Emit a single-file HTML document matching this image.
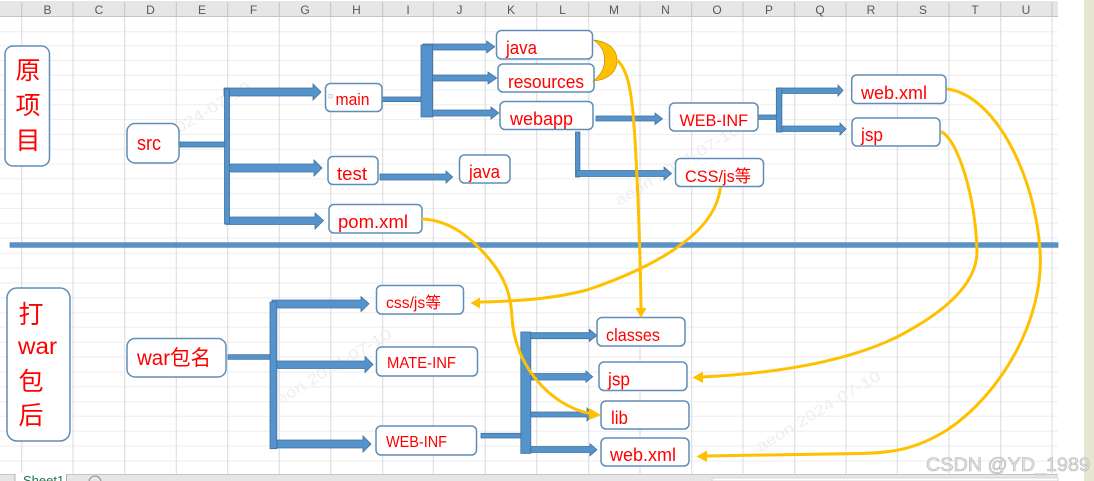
<!DOCTYPE html>
<html><head><meta charset="utf-8">
<style>
html,body{margin:0;padding:0;background:#fff;width:1094px;height:481px;overflow:hidden}
svg{display:block}
text{font-family:"Liberation Sans","Noto Sans CJK SC",sans-serif}
.h{font-size:12px;fill:#595959;text-anchor:middle}
.t{font-size:18.5px;fill:#ff0000}
.c{font-size:25px;fill:#ff0000;font-family:"Liberation Sans","Noto Sans CJK SC",sans-serif}
.w{font-size:15px;fill:#eeeeee}
.b rect{fill:#fff;stroke:#5f8db5;stroke-width:1.5}
.a polygon,.a rect{fill:#5593cd;stroke:#41719c;stroke-width:.8}
.y{fill:none;stroke:#ffc000;stroke-width:3}
.yh{fill:#ffc000}
</style></head><body>
<svg width="1094" height="481" viewBox="0 0 1094 481" xmlns="http://www.w3.org/2000/svg">
<defs><filter id="s" x="0" y="0" width="100%" height="100%"><feGaussianBlur stdDeviation="0.35"/></filter></defs>
<g filter="url(#s)">
<rect x="0" y="0" width="1094" height="481" fill="#fff"/>
<rect x="1084" y="0" width="10" height="481" fill="#e4e6d0"/>
<!-- grid -->
<path stroke="#ededed" stroke-width="1" fill="none" d="M0 31.7H1058M0 45.7H1058M0 60.5H1058M0 75.3H1058M0 90H1058M0 104.8H1058M0 119.6H1058M0 134.4H1058M0 149.2H1058M0 164H1058M0 178.8H1058M0 193.6H1058M0 208.4H1058M0 223.2H1058M0 238H1058M0 253.3H1058M0 268H1058M0 283H1058M0 297.7H1058M0 312.7H1058M0 327.3H1058M0 342.3H1058M0 357H1058M0 372H1058M0 386.7H1058M0 401.7H1058M0 416.3H1058M0 431.3H1058M0 446H1058M0 461H1058"/>
<path stroke="#dedede" stroke-width="1.1" fill="none" d="M21.7 16V474M73 16V474M124.7 16V474M176.3 16V474M227.7 16V474M279.3 16V474M330.7 16V474M382.7 16V474M433.3 16V474M485.3 16V474M536.7 16V474M588.7 16V474M640 16V474M691.7 16V474M743 16V474M794.7 16V474M846 16V474M897.3 16V474M949 16V474M1000.7 16V474M1052 16V474"/>
<!-- header -->
<rect x="0" y="1" width="1058" height="15" fill="#e6e6e6"/>
<path stroke="#c4c4c4" fill="none" d="M0 16.5H1058M21.7 2V16M73 2V16M124.7 2V16M176.3 2V16M227.7 2V16M279.3 2V16M330.7 2V16M382.7 2V16M433.3 2V16M485.3 2V16M536.7 2V16M588.7 2V16M640 2V16M691.7 2V16M743 2V16M794.7 2V16M846 2V16M897.3 2V16M949 2V16M1000.7 2V16M1052 2V16"/>
<g class="h">
<text class="h" x="47.5" y="14">B</text><text class="h" x="99" y="14">C</text><text class="h" x="150.5" y="14">D</text><text class="h" x="202" y="14">E</text><text class="h" x="253.5" y="14">F</text><text class="h" x="305" y="14">G</text><text class="h" x="356.5" y="14">H</text><text class="h" x="408" y="14">I</text><text class="h" x="459.5" y="14">J</text><text class="h" x="511" y="14">K</text><text class="h" x="562.5" y="14">L</text><text class="h" x="614" y="14">M</text><text class="h" x="665.5" y="14">N</text><text class="h" x="717" y="14">O</text><text class="h" x="769" y="14">P</text><text class="h" x="820" y="14">Q</text><text class="h" x="871" y="14">R</text><text class="h" x="923" y="14">S</text><text class="h" x="975" y="14">T</text><text class="h" x="1026" y="14">U</text>
</g>
<!-- sheet tabs -->
<rect x="0" y="474" width="1058" height="7" fill="#e6e6e6"/>
<path d="M0 474.5H1058" stroke="#c4c4c4"/>
<rect x="15" y="473" width="51" height="9" fill="#fff"/>
<path d="M15 474V481M66.5 474V481" stroke="#b0b0b0"/>
<text x="23" y="485" fill="#217346" style="font-size:13px">Sheet1</text>
<circle cx="95" cy="482" r="6" fill="none" stroke="#8a8a8a"/>
<rect x="712" y="478" width="346" height="3" fill="#fff" stroke="#c8c8c8" stroke-width=".7"/>
<!-- watermarks -->
<g class="w">
<text class="w" transform="translate(130,163) rotate(-31)" textLength="142" lengthAdjust="spacingAndGlyphs">aeon  2024-07-10</text>
<text class="w" transform="translate(619,206) rotate(-31)" textLength="142" lengthAdjust="spacingAndGlyphs">aeon  2024-07-10</text>
<text class="w" transform="translate(271,410) rotate(-31)" textLength="142" lengthAdjust="spacingAndGlyphs">aeon  2024-07-10</text>
<text class="w" transform="translate(760,452) rotate(-31)" textLength="142" lengthAdjust="spacingAndGlyphs">aeon  2024-07-10</text>
</g>
<!-- divider -->
<rect x="10" y="242.7" width="1048" height="4.6" fill="#5593cd" stroke="#41719c" stroke-width=".6"/>
<!-- blue connectors -->
<g class="a">
<rect x="180" y="142" width="45" height="5"/>
<polygon points="224,88 313,88 313,84 321,92 313,100 313,96 224,96"/>
<polygon points="229,164 314,164 314,160 322,168 314,176 314,172 229,172"/>
<polygon points="226,217 315,217 315,213 323.5,220.5 315,229 315,224.5 226,224.5"/>
<rect x="224.5" y="89" width="5" height="135"/>
<rect x="382" y="97" width="42" height="4.6"/>
<polygon points="423,44 486.7,44 486.7,41 494.7,46.8 486.7,52.8 486.7,50 423,50"/>
<polygon points="432,75 488,75 488,72 496.7,78 488,84 488,81 432,81"/>
<polygon points="432,110 491,110 491,107 498.7,113 491,119 491,116 432,116"/>
<rect x="421" y="45" width="11.6" height="72"/>
<polygon points="596,116 655,116 655,113 662.5,118.7 655,124.5 655,121 596,121"/>
<rect x="575.5" y="132" width="4.4" height="45"/>
<polygon points="576,170.5 664,170.5 664,167 671.5,173.5 664,180 664,176.5 576,176.5"/>
<polygon points="380,174 446,174 446,171 452.7,177 446,183 446,180 380,180"/>
<rect x="758" y="115" width="19" height="4.4"/>
<polygon points="778,88 838,88 838,85 843,90.5 838,96 838,93.5 778,93.5"/>
<polygon points="782,126 840,126 840,123 846,129 840,135 840,131.5 782,131.5"/>
<rect x="776.3" y="88" width="5.6" height="44"/>
<!-- bottom -->
<rect x="228" y="354.7" width="45" height="4.6"/>
<polygon points="272,300 361,300 361,296.5 369,303.8 361,311.5 361,308 272,308"/>
<polygon points="277,361 365,361 365,356.5 373,364.5 365,372.5 365,368.5 277,368.5"/>
<polygon points="277,440 363,440 363,436 371,444 363,452 363,448 277,448"/>
<rect x="270" y="302" width="6.8" height="146.7"/>
<rect x="481" y="433.3" width="41" height="4.7"/>
<polygon points="525,332.7 589.3,332.7 589.3,329.3 597,335.5 589.3,341.3 589.3,338.7 525,338.7"/>
<polygon points="531,373.5 586,373.5 586,371 592.7,376.7 586,382.3 586,380 531,380"/>
<polygon points="531,412 587,412 587,408 593,414.5 587,421 587,417 531,417"/>
<polygon points="531,446.5 590,446.5 590,443.7 597,449.7 590,455.7 590,452.5 531,452.5"/>
<rect x="520.8" y="332" width="10" height="121.4"/>
</g>
<!-- boxes -->
<g class="b">
<rect x="5" y="46" width="44.5" height="120" rx="8"/>
<rect x="127" y="123.5" width="52" height="39.5" rx="8"/>
<rect x="325.5" y="83.5" width="56.5" height="28" rx="5"/>
<rect x="328" y="156.5" width="50" height="28" rx="5"/>
<rect x="329" y="204.5" width="93" height="28.5" rx="5"/>
<rect x="496.5" y="30.5" width="96" height="28.5" rx="5"/>
<rect x="498" y="64" width="96" height="28" rx="5"/>
<rect x="500" y="101.5" width="93" height="28" rx="5"/>
<rect x="669.5" y="103" width="88.5" height="28" rx="5"/>
<rect x="459.5" y="155" width="50.5" height="28" rx="5"/>
<rect x="675.5" y="158.5" width="88" height="28" rx="5"/>
<rect x="851.7" y="75" width="94.3" height="28.5" rx="5"/>
<rect x="852" y="118" width="88" height="28" rx="5"/>
<rect x="7" y="288" width="63" height="153" rx="10"/>
<rect x="127" y="338.5" width="99" height="38.5" rx="8"/>
<rect x="376.5" y="285.5" width="87" height="28.5" rx="5"/>
<rect x="376.5" y="347" width="101" height="29" rx="5"/>
<rect x="376" y="426" width="100.5" height="29" rx="5"/>
<rect x="597" y="317.5" width="88" height="28.5" rx="5"/>
<rect x="599" y="362" width="88" height="28.5" rx="5"/>
<rect x="601" y="401" width="88" height="28" rx="5"/>
<rect x="601" y="438" width="88" height="28" rx="5"/>
</g>
<rect x="329" y="94.5" width="3.4" height="3.4" fill="#fff" stroke="#b5b5b5" stroke-width=".6"/>
<!-- labels -->
<text class="t" x="137" y="150" textLength="24" lengthAdjust="spacingAndGlyphs" style="font-size:20px">src</text>
<text class="t" x="335.5" y="105" textLength="34" lengthAdjust="spacingAndGlyphs" style="font-size:17px">main</text>
<text class="t" x="337" y="180" textLength="30" lengthAdjust="spacingAndGlyphs">test</text>
<text class="t" x="338" y="228" textLength="70" lengthAdjust="spacingAndGlyphs">pom.xml</text>
<text class="t" x="506" y="54" textLength="31" lengthAdjust="spacingAndGlyphs">java</text>
<text class="t" x="508" y="88" textLength="76" lengthAdjust="spacingAndGlyphs">resources</text>
<text class="t" x="510" y="125" textLength="63" lengthAdjust="spacingAndGlyphs">webapp</text>
<text class="t" x="679.5" y="126" textLength="68.5" lengthAdjust="spacingAndGlyphs" style="font-size:17px">WEB-INF</text>
<text class="t" x="469" y="178" textLength="31" lengthAdjust="spacingAndGlyphs">java</text>
<text class="t" x="685" y="182" textLength="66" lengthAdjust="spacingAndGlyphs" style="font-size:17px">CSS/js等</text>
<text class="t" x="861" y="99" textLength="66" lengthAdjust="spacingAndGlyphs">web.xml</text>
<text class="t" x="861" y="141" textLength="22" lengthAdjust="spacingAndGlyphs">jsp</text>
<text class="t" x="386" y="308" textLength="55" lengthAdjust="spacingAndGlyphs" style="font-size:16px">css/js等</text>
<text class="t" x="387" y="368" textLength="69" lengthAdjust="spacingAndGlyphs" style="font-size:16px">MATE-INF</text>
<text class="t" x="386" y="447" textLength="61" lengthAdjust="spacingAndGlyphs" style="font-size:16px">WEB-INF</text>
<text class="t" x="606" y="341" textLength="54" lengthAdjust="spacingAndGlyphs" style="font-size:17.5px">classes</text>
<text class="t" x="608" y="385.5" textLength="22" lengthAdjust="spacingAndGlyphs">jsp</text>
<text class="t" x="611" y="424" textLength="17" lengthAdjust="spacingAndGlyphs">lib</text>
<text class="t" x="610" y="461" textLength="66" lengthAdjust="spacingAndGlyphs">web.xml</text>
<text class="t" x="137" y="365" textLength="74" lengthAdjust="spacingAndGlyphs" style="font-size:21px">war包名</text>
<text class="c" x="15.5" y="79">原</text>
<text class="c" x="15.5" y="114">项</text>
<text class="c" x="15.5" y="149">目</text>
<text class="c" x="18.5" y="323">打</text>
<text class="c" x="18" y="354" textLength="39" lengthAdjust="spacingAndGlyphs" style="font-size:23px">war</text>
<text class="c" x="18.5" y="390">包</text>
<text class="c" x="18.5" y="424">后</text>
<!-- moon -->
<path d="M593.5,40 C610,42 617,50 617,60 C617,72 608,80 593,81 C603,74 604.5,66 604.5,60 C604.5,52 602,46 593.5,40 Z" fill="#ffc000" stroke="#bf9000" stroke-width=".7"/>
<!-- yellow curves -->
<path class="y" d="M617,60 C628,70 632,90 635,140 C638,190 640,240 641,308"/>
<polygon class="yh" points="635.5,308 646.5,308 641,318"/>
<path class="y" d="M422,219 C450,220 472,238 490,260 C505,278 511,295 512,317 C513,340 522,362 535,378 C550,397 570,410 592,414"/>
<polygon class="yh" points="589,408 601,415 589,420"/>
<path class="y" d="M720.5,187 C718,208 706,225 687,240 C660,262 620,279 587,290 C560,297 530,301 479,302"/>
<polygon class="yh" points="480,297.5 470.5,303 480,308.5"/>
<path class="y" d="M941,131.5 C958,140 975,195 977,250 C978,290 930,320 897,337 C860,355 800,372 702,377"/>
<polygon class="yh" points="703,371.5 692.5,377.5 703,383"/>
<path class="y" d="M947,89 C995,95 1035,175 1040,250 C1045,320 1000,395 947,430 C915,450 890,453 860,453.5 L705,456"/>
<polygon class="yh" points="707,450.5 696.5,456.5 707,462"/>
<!-- CSDN watermark -->
<text x="926" y="471" textLength="164" lengthAdjust="spacingAndGlyphs" style="font-size:19px" fill="#e6e6e6" stroke="#b4b4b4" stroke-width=".6">CSDN @YD_1989</text>
</g>
</svg>
</body></html>
